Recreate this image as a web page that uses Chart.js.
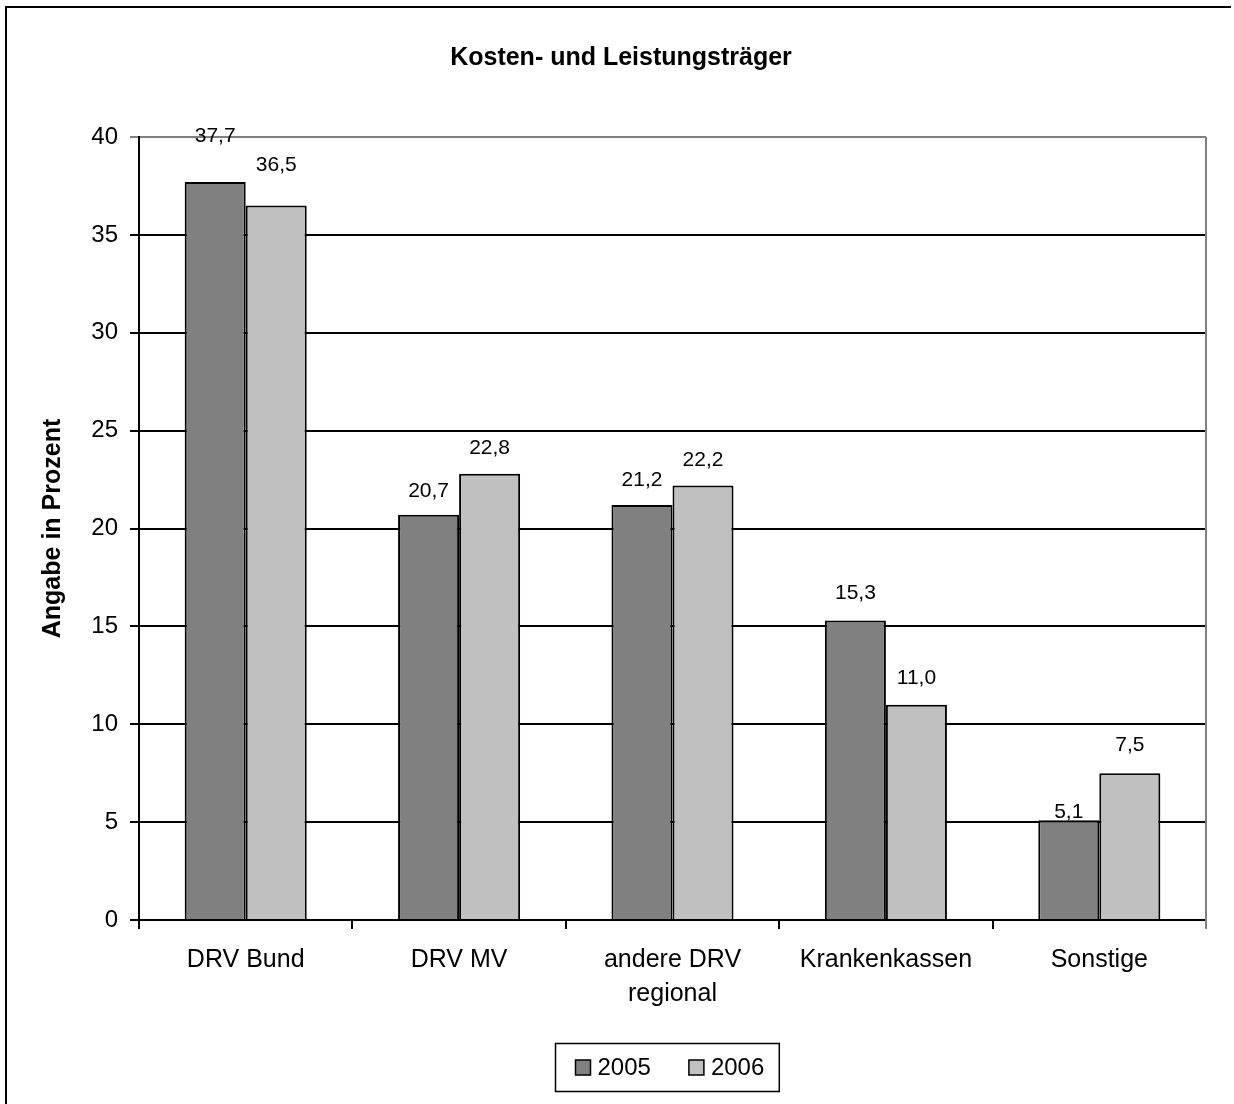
<!DOCTYPE html>
<html><head><meta charset="utf-8">
<script src="https://cdn.jsdelivr.net/npm/chart.js@4.4.1/dist/chart.umd.min.js"></script>
<style>html,body{margin:0;padding:0;background:#fff}#wrap{width:1234px;height:1104px;position:relative}</style>
</head><body><div id="wrap"><canvas id="c" width="1234" height="1104"></canvas></div>
<script>
const categories = ['DRV Bund', 'DRV MV', ['andere DRV', 'regional'], 'Krankenkassen', 'Sonstige'];
const seriesNames = ['2005', '2006'];
const values2005 = [37.7, 20.7, 21.2, 15.3, 5.1];
const values2006 = [36.5, 22.8, 22.2, 11.0, 7.5];
const yMin = 0, yMax = 40, yStep = 5;
const titleText = 'Kosten- und Leistungsträger';
const yTitleText = 'Angabe in Prozent';

const FONT = '"Liberation Sans", Arial, sans-serif';

const framePlugin = {
  id: 'frame',
  beforeDraw(chart) {
    const ctx = chart.ctx;
    ctx.save();
    ctx.fillStyle = '#fff';
    ctx.fillRect(0, 0, chart.width, chart.height);
    ctx.restore();
  },
  afterDraw(chart) {
    const ctx = chart.ctx, ca = chart.chartArea;
    ctx.save();
    ctx.strokeStyle = '#808080';
    ctx.lineWidth = 2;
    ctx.beginPath();
    ctx.moveTo(ca.right, ca.top);
    ctx.lineTo(ca.right, ca.bottom + 9);
    ctx.stroke();
    ctx.strokeStyle = '#000';
    ctx.lineWidth = 2;
    ctx.beginPath();
    ctx.moveTo(6, chart.height + 2);
    ctx.lineTo(6, 7);
    ctx.lineTo(1231, 7);
    ctx.stroke();
    ctx.restore();
  }
};

const valueLabels = {
  id: 'valueLabels',
  afterDatasetsDraw(chart, args, opts) {
    const ctx = chart.ctx;
    ctx.save();
    ctx.font = opts.font;
    ctx.fillStyle = '#000';
    ctx.textAlign = 'center';
    ctx.textBaseline = 'middle';
    chart.data.datasets.forEach((ds, di) => {
      chart.getDatasetMeta(di).data.forEach((bar, i) => {
        const off = opts.offsets[i][di];
        ctx.fillText(ds.data[i].toFixed(1).replace('.', ','), bar.x, bar.y - off);
      });
    });
    ctx.restore();
  }
};

const boxLegend = {
  id: 'boxLegend',
  afterDraw(chart, args, opts) {
    const ctx = chart.ctx, ca = chart.chartArea;
    ctx.save();
    ctx.font = opts.font;
    const sq = 15, gap = 7, itemGap = 38, padL = 20, padR = 15, h = 48;
    const items = chart.data.datasets.map(ds => ({ text: ds.label, color: ds.backgroundColor, w: ctx.measureText(ds.label).width }));
    let total = padL + padR;
    items.forEach((it, k) => { total += sq + gap + it.w + (k < items.length - 1 ? itemGap : 0); });
    const cx = (ca.left + ca.right) / 2 - 6;
    const left = Math.round(cx - total / 2) + 0.5;
    const top = opts.top + 0.5;
    ctx.strokeStyle = '#000';
    ctx.lineWidth = 1.5;
    ctx.strokeRect(left, top, total, h);
    let x = left + padL;
    const cy = top + h / 2;
    ctx.textBaseline = 'middle';
    ctx.textAlign = 'left';
    items.forEach(it => {
      ctx.fillStyle = it.color;
      ctx.fillRect(x, cy - sq / 2, sq, sq);
      ctx.strokeRect(x, cy - sq / 2, sq, sq);
      ctx.fillStyle = '#000';
      ctx.fillText(it.text, x + sq + gap, cy + 1);
      x += sq + gap + it.w + itemGap;
    });
    ctx.restore();
  }
};

new Chart(document.getElementById('c'), {
  type: 'bar',
  data: {
    labels: categories,
    datasets: [
      { label: seriesNames[0], data: values2005, backgroundColor: '#808080', borderColor: '#000', borderWidth: 2 },
      { label: seriesNames[1], data: values2006, backgroundColor: '#C0C0C0', borderColor: '#000', borderWidth: 2 }
    ]
  },
  options: {
    responsive: false,
    animation: false,
    layout: { padding: { left: 36, right: 28, top: 0, bottom: 0 } },
    datasets: { bar: { barPercentage: 1.0, categoryPercentage: 0.572 } },
    plugins: {
      legend: { display: false },
      tooltip: { enabled: false },
      title: {
        display: true,
        text: titleText,
        color: '#000',
        font: { family: FONT, size: 25, weight: 'bold', lineHeight: 1.2 },
        padding: { top: 43, bottom: 64 }
      },
      valueLabels: {
        font: '21px ' + FONT,
        offsets: [[46, 40], [24, 25], [25, 25], [27, 26], [8, 28]]
      },
      boxLegend: { font: '24px ' + FONT, top: 1043 }
    },
    scales: {
      x: {
        afterFit(scale) { scale.height = 184; },
        grid: { offset: true, drawOnChartArea: false, drawTicks: true, tickLength: 9, color: '#000', lineWidth: 2 },
        border: { display: true, color: '#000', width: 2 },
        ticks: { color: '#000', font: { family: FONT, size: 25, lineHeight: 1.35 }, padding: 14, maxRotation: 0, autoSkip: false }
      },
      y: {
        min: yMin, max: yMax,
        afterFit(scale) { scale.width = 103; },
        grid: {
          color: ctx => (ctx.tick && ctx.tick.value === yMax) ? '#808080' : '#000',
          lineWidth: 2, drawTicks: true, tickLength: 9
        },
        border: { display: true, color: '#000', width: 2 },
        ticks: { stepSize: yStep, color: '#000', font: { family: FONT, size: 24 }, padding: 12 },
        title: {
          display: true, text: yTitleText, color: '#000',
          font: { family: FONT, size: 25, weight: 'bold', lineHeight: 1.2 },
          padding: { top: 2, bottom: 0 }
        }
      }
    }
  },
  plugins: [framePlugin, valueLabels, boxLegend]
});
</script>
</body></html>
